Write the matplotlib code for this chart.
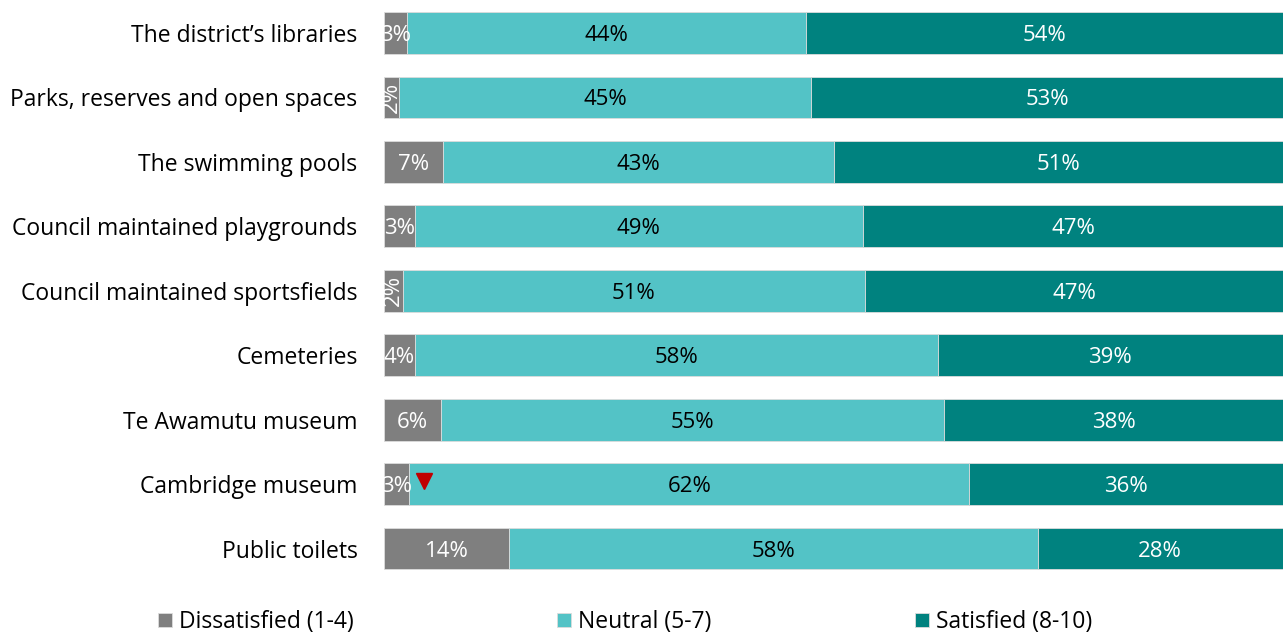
import numpy as np
import matplotlib.pyplot as plt

plt.rcParams['font.family'] = ['Open Sans', 'DejaVu Sans']

# data
categories = ['The district\u2019s libraries', 'Parks, reserves and open spaces',
              'The swimming pools', 'Council maintained playgrounds',
              'Council maintained sportsfields', 'Cemeteries', 'Te Awamutu museum',
              'Cambridge museum', 'Public toilets']
dissatisfied = [2.6, 1.7, 6.6, 3.4, 2.1, 3.4, 6.3, 2.8, 13.9]
neutral = [44.3, 45.8, 43.4, 49.9, 51.4, 58.2, 56.0, 62.3, 58.8]
satisfied = [53.1, 52.5, 50.0, 46.7, 46.5, 38.4, 37.7, 34.9, 27.3]
dis_labels = ['3%', '2%', '7%', '3%', '2%', '4%', '6%', '3%', '14%']
neu_labels = ['44%', '45%', '43%', '49%', '51%', '58%', '55%', '62%', '58%']
sat_labels = ['54%', '53%', '51%', '47%', '47%', '39%', '38%', '36%', '28%']
series = ['Dissatisfied (1-4)', 'Neutral (5-7)', 'Satisfied (8-10)']
colors = ['#7F7F7F', '#53C3C6', '#00827F']

fig = plt.figure(figsize=(12.83, 6.34), dpi=100)
ax = fig.add_axes([0.2993, 0.084, 0.7007, 0.9147])

y = np.arange(len(categories))
left = np.zeros(len(categories))
for vals, labs, col, name in zip([dissatisfied, neutral, satisfied],
                                 [dis_labels, neu_labels, sat_labels], colors, series):
    vals = np.array(vals)
    ax.barh(y, vals, left=left, height=0.65, color=col, edgecolor='#dcdcdc',
            linewidth=0.6, label=name)
    for i, (v, lab) in enumerate(zip(vals, labs)):
        txt_col = 'black' if col == colors[1] else 'white'
        if v < 2.3:
            # narrow segment: vertical label
            ax.text(left[i] + v / 2, y[i], lab, ha='center', va='center',
                    color=txt_col, fontsize=16, rotation=90, clip_on=True)
        else:
            ax.text(left[i] + v / 2, y[i], lab, ha='center', va='center_baseline',
                    color=txt_col, fontsize=16, clip_on=True)
    left += vals

# red down-arrow marker on Cambridge museum
ax.plot([4.5], [7 - 0.05], marker='v', color='#C00000', markersize=12, linestyle='none')

ax.set_xlim(0, 100)
ax.set_ylim(len(categories) - 0.5, -0.5)
ax.set_yticks(y)
ax.set_yticklabels(categories, fontsize=16.5)
ax.set_xticks([])
ax.tick_params(axis='y', length=0, pad=19)
for s in ax.spines.values():
    s.set_visible(False)

fig.legend(loc='center left', bbox_to_anchor=(0.107, 0.019), ncol=3, frameon=False,
           fontsize=16.5, handlelength=0.6, handleheight=0.6, handletextpad=0.3,
           columnspacing=8.9)

fig.savefig('out.png', dpi=100)
